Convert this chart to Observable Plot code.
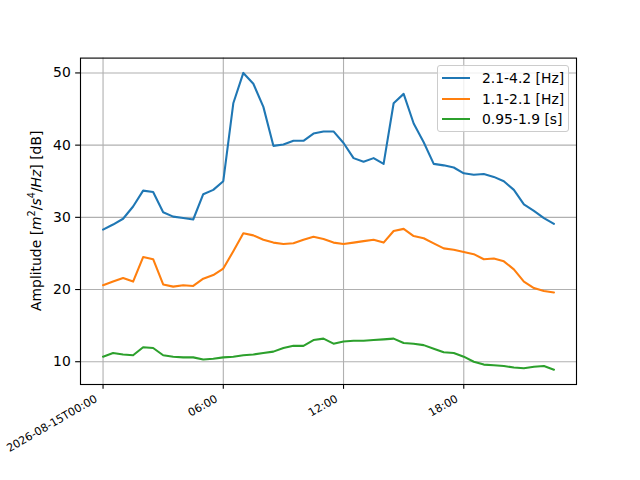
<!DOCTYPE html>
<html>
<head>
<meta charset="utf-8">
<script src="https://cdn.jsdelivr.net/npm/d3@7"></script>
<script src="https://cdn.jsdelivr.net/npm/@observablehq/plot@0.6"></script>
<style>
  body { margin: 0; background: #fff; font-family: "DejaVu Sans", sans-serif; }
  #wrap { position: relative; width: 640px; height: 480px; }
  #legend { position: absolute; left: 437px; top: 65px; width: 132px; height: 67px; box-sizing: border-box;
            border: 1px solid #cccccc; border-radius: 3px; background: rgba(255,255,255,0.8); }
  .row { position: absolute; left: 0; width: 130px; height: 20px; font-size: 13.9px; line-height: 20px; color: #000; white-space: nowrap; }
  .sw { position: absolute; left: 4px; width: 28px; top: 9px; border-top: 2.1px solid; }
  .lab { position: absolute; left: 44px; top: 0; }
</style>
</head>
<body>
<div id="wrap"></div>
<script>
// ---- data ----
const seriesNames = ["2.1-4.2 [Hz]", "1.1-2.1 [Hz]", "0.95-1.9 [s]"];
const seriesColors = ["#1f77b4", "#ff7f0e", "#2ca02c"];
const dateLabel = "2026-08-15";
const times = ["00:00","00:30","01:00","01:30","02:00","02:30","03:00","03:30","04:00","04:30",
               "05:00","05:30","06:00","06:30","07:00","07:30","08:00","08:30","09:00","09:30",
               "10:00","10:30","11:00","11:30","12:00","12:30","13:00","13:30","14:00","14:30",
               "15:00","15:30","16:00","16:30","17:00","17:30","18:00","18:30","19:00","19:30",
               "20:00","20:30","21:00","21:30","22:00","22:30"];
const band1 = [28.3,29.0,29.8,31.5,33.7,33.5,30.7,30.1,29.9,29.7,
               33.2,33.8,35.0,45.8,50.0,48.5,45.3,39.9,40.1,40.6,
               40.6,41.6,41.9,41.9,40.3,38.2,37.7,38.2,37.4,45.8,
               47.1,43.0,40.4,37.4,37.2,36.9,36.1,35.9,36.0,35.6,
               35.0,33.8,31.8,30.9,29.9,29.1];
const band2 = [20.6,21.1,21.6,21.1,24.5,24.2,20.7,20.4,20.6,20.5,
               21.5,22.0,22.9,25.3,27.8,27.5,26.9,26.5,26.3,26.4,
               26.9,27.3,27.0,26.5,26.3,26.5,26.7,26.9,26.5,28.1,
               28.4,27.4,27.1,26.4,25.7,25.5,25.2,24.9,24.2,24.3,
               23.9,22.8,21.1,20.2,19.8,19.6];
const band3 = [10.7,11.2,11.0,10.9,12.0,11.9,10.9,10.7,10.6,10.6,
               10.3,10.4,10.6,10.7,10.9,11.0,11.2,11.4,11.9,12.2,
               12.2,13.0,13.2,12.5,12.8,12.9,12.9,13.0,13.1,13.2,
               12.6,12.5,12.3,11.8,11.3,11.2,10.7,10.0,9.6,9.5,
               9.4,9.2,9.1,9.3,9.4,8.9];
const xTickTimes = ["00:00", "06:00", "12:00", "18:00"];
const xTickLabels = ["2026-08-15T00:00", "06:00", "12:00", "18:00"];
const yTicks = [10, 20, 30, 40, 50];
const yLabel = "Amplitude [m²/s⁴/Hz] [dB]";

// ---- build ----
const toDate = s => new Date(`${dateLabel}T${s}:00Z`);
const xs = times.map(toDate);
const allSeries = [band1, band2, band3];
const tickDates = xTickTimes.map(toDate);

// matplotlib-like 5% margins
const xMin = +xs[0], xMax = +xs[xs.length - 1];
const xPad = (xMax - xMin) * 0.05;
const allVals = allSeries.flat();
const yMin = d3.min(allVals), yMax = d3.max(allVals);
const yPad = (yMax - yMin) * 0.05;
const yDomain = [yMin - yPad, yMax + yPad];

const LW = 2.08, THIN = 1.11, TICK = 4.86;

const lineMarks = allSeries.map((vals, k) =>
  Plot.line(vals.map((v, i) => ({t: xs[i], v})), {
    x: "t", y: "v", stroke: seriesColors[k], strokeWidth: LW, strokeLinejoin: "round"
  })
);

const chart = Plot.plot({
  width: 640, height: 480,
  marginLeft: 80, marginRight: 64, marginTop: 57.6, marginBottom: 96,
  style: {fontFamily: "DejaVu Sans", fontSize: "13.9px", color: "black", background: "white", overflow: "visible"},
  x: {type: "utc", axis: null, domain: [new Date(xMin - xPad), new Date(xMax + xPad)]},
  y: {domain: yDomain, axis: null},
  marks: [
    Plot.gridX(tickDates, {stroke: "#b0b0b0", strokeOpacity: 1, strokeWidth: THIN}),
    Plot.gridY(yTicks, {stroke: "#b0b0b0", strokeOpacity: 1, strokeWidth: THIN}),
    ...lineMarks,
    Plot.frame({stroke: "black", strokeWidth: THIN}),
    Plot.axisY({ticks: yTicks, tickSize: TICK, tickPadding: TICK, label: null, tickFormat: d => String(d), stroke: "black", strokeWidth: THIN}),
    Plot.ruleX(tickDates, {x: d => d, y1: yDomain[0], y2: yDomain[0], insetBottom: -TICK, stroke: "black", strokeWidth: THIN}),
    Plot.text(tickDates, {x: d => d, frameAnchor: "bottom", text: (d, i) => xTickLabels[i],
      rotate: -30, textAnchor: "end", fontSize: 11, dx: -5, dy: 16.5, fill: "black"})
  ]
});

// y label, typeset with italic symbols and superscripts as real text
{
  const NS = "http://www.w3.org/2000/svg";
  const t = document.createElementNS(NS, "text");
  const cx = 36, cy = 57.6 + (480 - 96 - 57.6) / 2;
  t.setAttribute("transform", `translate(${cx},${cy}) rotate(-90)`);
  t.setAttribute("text-anchor", "middle");
  t.setAttribute("dy", "0.35em");
  t.setAttribute("font-family", "DejaVu Sans");
  t.setAttribute("font-size", "13.9px");
  t.setAttribute("fill", "black");
  const parts = [
    ["Amplitude [", null], ["m", "i"], ["²".replace("²", "2"), "s"], ["/", "b"], ["s", "i"], ["4", "s"], ["/", "b"], ["Hz", "i"], ["] [dB]", null]
  ];
  let raised = false;
  for (const [str, kind] of parts) {
    const ts = document.createElementNS(NS, "tspan");
    ts.textContent = str;
    if (kind === "i") ts.setAttribute("font-style", "italic");
    if (kind === "s") { ts.setAttribute("font-size", "9.7px"); ts.setAttribute("dy", "-5.5"); raised = true; }
    else if (raised) { ts.setAttribute("dy", "5.5"); raised = false; }
    t.appendChild(ts);
  }
  const title = document.createElementNS(NS, "title");
  title.textContent = yLabel;
  t.appendChild(title);
  chart.appendChild(t);
}

const wrap = document.getElementById("wrap");
wrap.appendChild(chart);

// legend inside the axes, upper right
const legend = document.createElement("div");
legend.id = "legend";
const rowCenters = [12.3, 32.8, 53.3];
seriesNames.forEach((name, k) => {
  const row = document.createElement("div");
  row.className = "row";
  row.style.top = (rowCenters[k] - 10) + "px";
  const sw = document.createElement("div");
  sw.className = "sw";
  sw.style.borderTopColor = seriesColors[k];
  const lab = document.createElement("span");
  lab.className = "lab";
  lab.textContent = name;
  row.appendChild(sw);
  row.appendChild(lab);
  legend.appendChild(row);
});
wrap.appendChild(legend);
</script>
</body>
</html>
